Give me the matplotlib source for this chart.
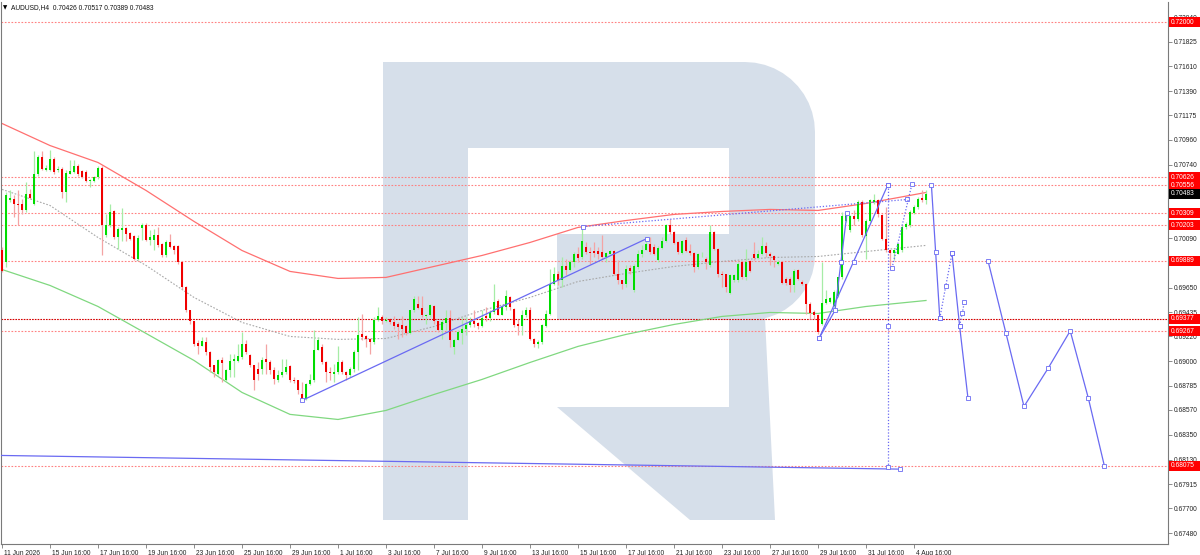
import matplotlib.pyplot as plt
from matplotlib.patches import Rectangle, Polygon
from matplotlib.transforms import ScaledTranslation
import numpy as np

plt.rcParams['font.family'] = ['Liberation Sans', 'DejaVu Sans']

symbol = 'AUDUSD,H4'

# H4 candles, bar 0 is the first visible bar (11 Jun 2026)
opens = [
    0.69980, 0.69877, 0.70428, 0.70437, 0.70393, 0.70393, 0.70334, 0.70481, 0.70393, 0.70658,
    0.70805, 0.70693, 0.70688, 0.70791, 0.70688, 0.70702, 0.70496, 0.70658, 0.70673, 0.70723,
    0.70679, 0.70673, 0.70590, 0.70590, 0.70629, 0.70711, 0.70113, 0.70201, 0.70325, 0.70098,
    0.70163, 0.70178, 0.70133, 0.70104, 0.69907, 0.70181, 0.70201, 0.70069, 0.70075, 0.70113,
    0.70039, 0.69936, 0.70054, 0.70016, 0.70016, 0.69877, 0.69656, 0.69450, 0.69356, 0.69161,
    0.69140, 0.69170, 0.69081, 0.68964, 0.68890, 0.69014, 0.68831, 0.68925, 0.69002, 0.69002,
    0.69037, 0.69149, 0.69052, 0.68964, 0.68934, 0.68934, 0.69022, 0.68993, 0.68925, 0.68837,
    0.68875, 0.68905, 0.68955, 0.68837, 0.68831, 0.68713, 0.68669, 0.68796, 0.68831, 0.69102,
    0.69126, 0.68993, 0.68910, 0.68890, 0.68905, 0.68993, 0.68905, 0.68875, 0.68934, 0.69081,
    0.69238, 0.69220, 0.69199, 0.69170, 0.69367, 0.69391, 0.69361, 0.69373, 0.69344, 0.69332,
    0.69317, 0.69308, 0.69249, 0.69450, 0.69509, 0.69473, 0.69397, 0.69406, 0.69488, 0.69356,
    0.69273, 0.69338, 0.69385, 0.69126, 0.69190, 0.69249, 0.69288, 0.69317, 0.69361, 0.69338,
    0.69308, 0.69397, 0.69385, 0.69435, 0.69532, 0.69414, 0.69479, 0.69568, 0.69465, 0.69326,
    0.69308, 0.69406, 0.69456, 0.69199, 0.69155, 0.69170, 0.69308, 0.69420, 0.69680, 0.69768,
    0.69715, 0.69839, 0.69809, 0.69877, 0.69951, 0.69921, 0.70010, 0.69966, 0.69974, 0.69974,
    0.69966, 0.69921, 0.69951, 0.69974, 0.69774, 0.69715, 0.69680, 0.69827, 0.69627, 0.69833,
    0.69951, 0.69986, 0.70033, 0.70010, 0.69892, 0.70004, 0.70060, 0.70201, 0.70142, 0.70054,
    0.69957, 0.70069, 0.69974, 0.69957, 0.69833, 0.69945, 0.69907, 0.69848, 0.70142, 0.69995,
    0.69774, 0.69768, 0.69603, 0.69715, 0.69715, 0.69877, 0.69745, 0.69886, 0.69951, 0.69915,
    0.69951, 0.70016, 0.69951, 0.69927, 0.69862, 0.69877, 0.69730, 0.69730, 0.69671, 0.69809,
    0.69700, 0.69686, 0.69509, 0.69435, 0.69414, 0.69332, 0.69515, 0.69523, 0.69485, 0.69582,
    0.69745, 0.70245, 0.70157, 0.70281, 0.70260, 0.70408, 0.70104, 0.70245, 0.70408, 0.70422,
    0.70298, 0.70083, 0.69980, 0.69957, 0.69951, 0.69980, 0.70187, 0.70201, 0.70310, 0.70363,
    0.70446, 0.70426,
]
highs = [
    0.70010, 0.70496, 0.70511, 0.70467, 0.70511, 0.70437, 0.70584, 0.70525, 0.70864, 0.70820,
    0.70864, 0.70732, 0.70870, 0.70805, 0.70723, 0.70717, 0.70688, 0.70776, 0.70782, 0.70746,
    0.70693, 0.70688, 0.70614, 0.70643, 0.70723, 0.70723, 0.70304, 0.70393, 0.70334, 0.70187,
    0.70357, 0.70187, 0.70142, 0.70113, 0.70113, 0.70222, 0.70222, 0.70157, 0.70172, 0.70187,
    0.70045, 0.70069, 0.70128, 0.70025, 0.70025, 0.69886, 0.69662, 0.69456, 0.69361, 0.69185,
    0.69214, 0.69214, 0.69090, 0.68972, 0.69022, 0.69037, 0.68934, 0.69067, 0.69067, 0.69155,
    0.69258, 0.69185, 0.69061, 0.68972, 0.68993, 0.69037, 0.69155, 0.69008, 0.68949, 0.68919,
    0.69022, 0.69022, 0.68964, 0.68860, 0.68837, 0.68816, 0.68807, 0.68890, 0.69273, 0.69214,
    0.69155, 0.69002, 0.68949, 0.68978, 0.69140, 0.69008, 0.68913, 0.68949, 0.69096, 0.69391,
    0.69420, 0.69229, 0.69208, 0.69391, 0.69479, 0.69406, 0.69391, 0.69385, 0.69397, 0.69344,
    0.69397, 0.69317, 0.69456, 0.69582, 0.69582, 0.69582, 0.69420, 0.69509, 0.69494, 0.69361,
    0.69376, 0.69450, 0.69450, 0.69199, 0.69273, 0.69391, 0.69391, 0.69391, 0.69450, 0.69347,
    0.69450, 0.69479, 0.69450, 0.69686, 0.69553, 0.69494, 0.69627, 0.69582, 0.69473, 0.69376,
    0.69450, 0.69479, 0.69479, 0.69208, 0.69185, 0.69332, 0.69450, 0.69818, 0.69833, 0.69803,
    0.69921, 0.69907, 0.69892, 0.69966, 0.70010, 0.70201, 0.70054, 0.70010, 0.70054, 0.70010,
    0.70113, 0.69966, 0.69986, 0.69980, 0.69892, 0.69721, 0.69848, 0.69848, 0.69862, 0.69980,
    0.70025, 0.70098, 0.70098, 0.70039, 0.70016, 0.70098, 0.70216, 0.70260, 0.70151, 0.70063,
    0.70075, 0.70098, 0.70039, 0.69966, 0.69957, 0.69966, 0.69921, 0.70201, 0.70151, 0.70004,
    0.69803, 0.69774, 0.69768, 0.69774, 0.69877, 0.69886, 0.69995, 0.69892, 0.70054, 0.69980,
    0.70098, 0.70054, 0.69966, 0.69936, 0.69892, 0.69886, 0.69745, 0.69745, 0.69818, 0.69818,
    0.69715, 0.69692, 0.69523, 0.69450, 0.69420, 0.69877, 0.69627, 0.69568, 0.69627, 0.69750,
    0.70319, 0.70319, 0.70290, 0.70334, 0.70422, 0.70422, 0.70260, 0.70437, 0.70481, 0.70437,
    0.70304, 0.70363, 0.69986, 0.69995, 0.70045, 0.70201, 0.70231, 0.70334, 0.70378, 0.70452,
    0.70511, 0.70517,
]
lows = [
    0.69789, 0.69833, 0.70408, 0.70275, 0.70201, 0.70304, 0.70319, 0.70437, 0.70378, 0.70643,
    0.70688, 0.70682, 0.70682, 0.70658, 0.70673, 0.70446, 0.70408, 0.70652, 0.70664, 0.70643,
    0.70623, 0.70584, 0.70540, 0.70584, 0.70614, 0.69936, 0.70098, 0.70187, 0.70083, 0.69995,
    0.70063, 0.70063, 0.70069, 0.69892, 0.69892, 0.70075, 0.70063, 0.70025, 0.69980, 0.70010,
    0.69921, 0.69921, 0.70004, 0.69945, 0.69862, 0.69641, 0.69435, 0.69332, 0.69140, 0.69067,
    0.69132, 0.69052, 0.68905, 0.68860, 0.68875, 0.68816, 0.68825, 0.68860, 0.68860, 0.68993,
    0.69022, 0.69067, 0.68949, 0.68743, 0.68831, 0.68890, 0.68890, 0.68890, 0.68802, 0.68816,
    0.68860, 0.68890, 0.68816, 0.68807, 0.68713, 0.68654, 0.68654, 0.68787, 0.68816, 0.69096,
    0.68978, 0.68816, 0.68831, 0.68816, 0.68890, 0.68890, 0.68831, 0.68860, 0.68905, 0.68919,
    0.69185, 0.69126, 0.69067, 0.69155, 0.69361, 0.69332, 0.69347, 0.69332, 0.69288, 0.69199,
    0.69214, 0.69229, 0.69244, 0.69435, 0.69465, 0.69391, 0.69332, 0.69391, 0.69332, 0.69258,
    0.69199, 0.69273, 0.69126, 0.69061, 0.69185, 0.69155, 0.69229, 0.69303, 0.69303, 0.69288,
    0.69303, 0.69361, 0.69361, 0.69420, 0.69406, 0.69406, 0.69450, 0.69450, 0.69303, 0.69229,
    0.69229, 0.69391, 0.69185, 0.69126, 0.69120, 0.69155, 0.69303, 0.69406, 0.69671, 0.69671,
    0.69656, 0.69759, 0.69803, 0.69833, 0.69877, 0.69907, 0.69951, 0.69862, 0.69921, 0.69907,
    0.69907, 0.69877, 0.69945, 0.69759, 0.69686, 0.69641, 0.69656, 0.69774, 0.69612, 0.69818,
    0.69921, 0.69980, 0.69951, 0.69936, 0.69877, 0.69995, 0.70054, 0.70128, 0.70039, 0.69951,
    0.69951, 0.69966, 0.69936, 0.69789, 0.69818, 0.69921, 0.69818, 0.69833, 0.69980, 0.69745,
    0.69656, 0.69612, 0.69597, 0.69700, 0.69700, 0.69730, 0.69715, 0.69789, 0.69892, 0.69907,
    0.69936, 0.69921, 0.69848, 0.69833, 0.69856, 0.69686, 0.69671, 0.69612, 0.69612, 0.69715,
    0.69671, 0.69420, 0.69376, 0.69376, 0.69244, 0.69317, 0.69509, 0.69515, 0.69479, 0.69568,
    0.69730, 0.70231, 0.70142, 0.70201, 0.70245, 0.70098, 0.69907, 0.70231, 0.70393, 0.70275,
    0.70069, 0.69966, 0.69833, 0.69892, 0.69945, 0.69966, 0.70172, 0.70187, 0.70304, 0.70349,
    0.70408, 0.70389,
]
closes = [
    0.69803, 0.70467, 0.70446, 0.70393, 0.70378, 0.70334, 0.70481, 0.70446, 0.70658, 0.70805,
    0.70702, 0.70711, 0.70791, 0.70673, 0.70702, 0.70496, 0.70664, 0.70679, 0.70723, 0.70658,
    0.70629, 0.70593, 0.70599, 0.70629, 0.70711, 0.70201, 0.70207, 0.70319, 0.70098, 0.70172,
    0.70181, 0.70128, 0.70083, 0.69907, 0.70092, 0.70201, 0.70075, 0.70098, 0.70113, 0.70025,
    0.69936, 0.70054, 0.70010, 0.69986, 0.69877, 0.69656, 0.69450, 0.69356, 0.69155, 0.69140,
    0.69179, 0.69081, 0.68949, 0.68905, 0.69008, 0.68984, 0.68925, 0.69002, 0.69022, 0.69043,
    0.69149, 0.69081, 0.68964, 0.68837, 0.68890, 0.69008, 0.68993, 0.68925, 0.68846, 0.68875,
    0.68905, 0.68949, 0.68837, 0.68825, 0.68743, 0.68669, 0.68796, 0.68831, 0.69102, 0.69190,
    0.68993, 0.68905, 0.68896, 0.68905, 0.68993, 0.68905, 0.68875, 0.68934, 0.69081, 0.69229,
    0.69214, 0.69199, 0.69170, 0.69367, 0.69397, 0.69361, 0.69367, 0.69344, 0.69314, 0.69303,
    0.69288, 0.69249, 0.69450, 0.69553, 0.69473, 0.69406, 0.69409, 0.69494, 0.69356, 0.69273,
    0.69347, 0.69385, 0.69185, 0.69190, 0.69258, 0.69288, 0.69317, 0.69356, 0.69332, 0.69308,
    0.69385, 0.69385, 0.69435, 0.69523, 0.69414, 0.69479, 0.69574, 0.69479, 0.69317, 0.69308,
    0.69406, 0.69450, 0.69199, 0.69155, 0.69170, 0.69317, 0.69420, 0.69680, 0.69768, 0.69715,
    0.69839, 0.69809, 0.69877, 0.69951, 0.69915, 0.70063, 0.69966, 0.69957, 0.69957, 0.69951,
    0.69921, 0.69957, 0.69974, 0.69768, 0.69715, 0.69680, 0.69818, 0.69803, 0.69839, 0.69951,
    0.69986, 0.70033, 0.69966, 0.69951, 0.70004, 0.70060, 0.70207, 0.70142, 0.70045, 0.69966,
    0.70063, 0.69974, 0.69957, 0.69833, 0.69945, 0.69951, 0.69877, 0.70142, 0.69995, 0.69774,
    0.69759, 0.69656, 0.69759, 0.69759, 0.69862, 0.69745, 0.69877, 0.69803, 0.69915, 0.69951,
    0.70016, 0.69957, 0.69927, 0.69892, 0.69877, 0.69692, 0.69692, 0.69671, 0.69803, 0.69730,
    0.69680, 0.69509, 0.69426, 0.69414, 0.69258, 0.69515, 0.69553, 0.69559, 0.69612, 0.69745,
    0.70281, 0.70304, 0.70281, 0.70260, 0.70408, 0.70113, 0.70245, 0.70422, 0.70422, 0.70304,
    0.70083, 0.69980, 0.69957, 0.69986, 0.70039, 0.70187, 0.70216, 0.70319, 0.70363, 0.70437,
    0.70428, 0.70483,
]

# envelope indicator lines, read at every 12th bar
ma_bars = [0, 12, 24, 36, 48, 60, 72, 84, 96, 108, 120, 132, 144, 156, 168, 180, 192, 204, 216, 231]
ma_upper = [0.71103, 0.70908, 0.70758, 0.70511, 0.70237, 0.69980, 0.69795, 0.69733, 0.69742, 0.69839,
            0.69936, 0.70051, 0.70184, 0.70245, 0.70299, 0.70325, 0.70343, 0.70334, 0.70396, 0.70493]
ma_mid = [0.70520, 0.70378, 0.70095, 0.69848, 0.69565, 0.69344, 0.69220, 0.69194, 0.69202, 0.69308,
          0.69450, 0.69565, 0.69706, 0.69777, 0.69839, 0.69883, 0.69918, 0.69927, 0.69971, 0.70025]
ma_lower = [0.69812, 0.69671, 0.69485, 0.69247, 0.69008, 0.68725, 0.68531, 0.68486, 0.68566, 0.68707,
            0.68840, 0.68990, 0.69132, 0.69238, 0.69326, 0.69397, 0.69432, 0.69423, 0.69485, 0.69538]

# horizontal levels
levels = [0.72000, 0.70626, 0.70556, 0.70309, 0.70203, 0.69889, 0.69377, 0.69267, 0.68075]
key_level = 0.69377
last_price = 0.70483

# drawn objects: (bar, price) points
long_line = [(-0.5, 0.68168), (224.4, 0.68047)]
trend_solid = [[(75, 0.68654), (161.25, 0.70086)],
               [(204.35, 0.69209), (208.25, 0.69450), (209.75, 0.69881), (211.25, 0.70312)],
               [(204.35, 0.69209), (212.9, 0.69882), (221.4, 0.70555)],
               [(232.35, 0.70560), (233.4, 0.69971), (234.45, 0.69381)],
               [(237.5, 0.69954), (239.4, 0.69313), (241.5, 0.68672)],
               [(246.5, 0.69889), (251, 0.69247), (255.5, 0.68601), (261.5, 0.68937),
                (267.05, 0.69269), (271.6, 0.68672), (275.6, 0.68075)]]
trend_dotted = [[(145.25, 0.70192), (226.25, 0.70431)],
                [(221.4, 0.70555), (221.4, 0.69313), (221.4, 0.68062)],
                [(222.5, 0.69824), (227.5, 0.70569)],
                [(234.45, 0.69381), (235.95, 0.69667), (237.5, 0.69954)],
                [(239.4, 0.69313), (240.05, 0.69423), (240.6, 0.69529)]]

xtick_bars = [0, 12, 24, 36, 48, 60, 72, 84, 96, 108, 120, 132, 144, 156, 168, 180, 192, 204, 216, 228]
xtick_labels = ['11 Jun 2026', '15 Jun 16:00', '17 Jun 16:00', '19 Jun 16:00', '23 Jun 16:00',
                '25 Jun 16:00', '29 Jun 16:00', '1 Jul 16:00', '3 Jul 16:00', '7 Jul 16:00',
                '9 Jul 16:00', '13 Jul 16:00', '15 Jul 16:00', '17 Jul 16:00', '21 Jul 16:00',
                '23 Jul 16:00', '27 Jul 16:00', '29 Jul 16:00', '31 Jul 16:00', '4 Aug 16:00']
ytick_vals = [0.72040, 0.71825, 0.71610, 0.71390, 0.71175, 0.70960, 0.70740, 0.70090, 0.69650,
              0.69435, 0.69220, 0.69000, 0.68785, 0.68570, 0.68350, 0.68130, 0.67915, 0.67700, 0.67480]

W, H = 1200, 555
fig = plt.figure(figsize=(W / 100, H / 100), dpi=100)
ax = fig.add_axes([1 / W, 1 - 544 / H, 1167 / W, 542 / H])
ax.set_xlim(-0.25, 291.5)
ax.set_ylim(0.67385, 0.72177)

# watermark logo, in figure pixels
wm = '#d6dfea'


def px(pts):
    return [(x / W, 1 - y / H) for x, y in pts]


def arc(cx, cy, r, a0, a1, n=12):
    t = np.radians(np.linspace(a0, a1, n))
    return [(cx + r * np.cos(t_), cy - r * np.sin(t_)) for t_ in t]


bowl = [(383, 62)] + arc(745, 132, 70, 90, 0) + arc(750, 255, 65, 0, -90) + [(557, 320), (557, 234),
        (729, 234), (729, 148), (468, 148), (468, 520), (383, 520)]
leg = [(729, 318), (765, 318), (775, 520), (690, 520), (557, 407), (729, 407)]
for shape in (bowl, leg):
    ax.add_patch(Polygon(px(shape), closed=True, transform=fig.transFigure, fc=wm, ec='none', zorder=0))

# levels
for v in levels:
    if v == key_level:
        ax.axhline(v, color='#d40000', lw=0.8, ls=(0, (1.5, 1)), zorder=1)
    else:
        ax.axhline(v, color='#ff8080', lw=0.8, ls=(0, (1.5, 1.5)), zorder=1)

# indicator lines
ax.plot(ma_bars, ma_upper, color='#ff7070', lw=0.9, zorder=2)
ax.plot(ma_bars, ma_lower, color='#80d880', lw=0.9, zorder=2)
ax.plot(ma_bars, ma_mid, color='#a8a8a8', lw=0.8, ls=(0, (1.5, 1.5)), zorder=2)

# candles
o = np.array(opens)
h = np.array(highs)
l = np.array(lows)
c = np.array(closes)
bars = np.arange(len(c))
up = c >= o
ax.vlines(bars[up], l[up], h[up], color='#a6eca6', lw=0.9, zorder=3)
ax.vlines(bars[~up], l[~up], h[~up], color='#f4a4a4', lw=0.9, zorder=3)
body_h = np.maximum(np.abs(c - o), 0.00007)
ax.bar(bars, body_h, bottom=np.minimum(o, c), width=0.72,
       color=np.where(up, '#00dc00', '#f00000'), zorder=4, linewidth=0)

# drawn trend lines / forecast
blue = '#6a6af2'
mk = dict(marker='s', ms=2.6, mfc='white', mec=blue, mew=0.6)
xs, ys = zip(*long_line)
ax.plot(xs, ys, color=blue, lw=0.9, markevery=[1], zorder=5, **mk)
for line in trend_solid:
    xs, ys = zip(*line)
    ax.plot(xs, ys, color=blue, lw=0.9, zorder=5, **mk)
for line in trend_dotted:
    xs, ys = zip(*line)
    ax.plot(xs, ys, color=blue, lw=0.9, ls=(0, (1, 1.5)), zorder=5, **mk)

# axes styling
for side in ('left', 'bottom', 'right'):
    ax.spines[side].set_color('#7a7a7a')
    ax.spines[side].set_linewidth(0.8)
ax.spines['top'].set_visible(False)
ax.yaxis.tick_right()
ax.set_yticks(ytick_vals)
ax.set_yticklabels([f'{v:.5f}' for v in ytick_vals])
ax.set_xticks(xtick_bars)
ax.set_xticklabels(xtick_labels)
ax.tick_params(axis='both', direction='out', length=3, width=0.6, color='#7a7a7a',
               labelsize=4.8, labelcolor='#222222')
ax.tick_params(axis='y', pad=1.5)
ax.tick_params(axis='x', pad=1.5)
shift = ScaledTranslation(2 / 100, 0, fig.dpi_scale_trans)
for lbl in ax.get_xticklabels():
    lbl.set_ha('left')
    lbl.set_transform(lbl.get_transform() + shift)

# price labels on the right scale
fig.canvas.draw()


def tag(v, fc):
    yd = ax.transData.transform((0, v))[1] / H
    fig.add_artist(Rectangle((1169 / W, yd - 5 / H), 31 / W, 10 / H, transform=fig.transFigure,
                             fc=fc, ec='none', zorder=5))
    fig.text(1171 / W, yd, f'{v:.5f}', color='white', fontsize=4.8, va='center', ha='left', zorder=6)


for v in levels:
    tag(v, '#ff0000')
tag(last_price, '#000000')

# title
fig.text(3 / W, 1 - 8 / H, '\u25bc', fontsize=4, va='center', ha='left', family='DejaVu Sans')
fig.text(11 / W, 1 - 8 / H,
         f'{symbol}  {opens[-1]:.5f} {highs[-1]:.5f} {lows[-1]:.5f} {closes[-1]:.5f}',
         fontsize=4.8, va='center', ha='left', color='#111111')

fig.savefig('out.png', dpi=100)
